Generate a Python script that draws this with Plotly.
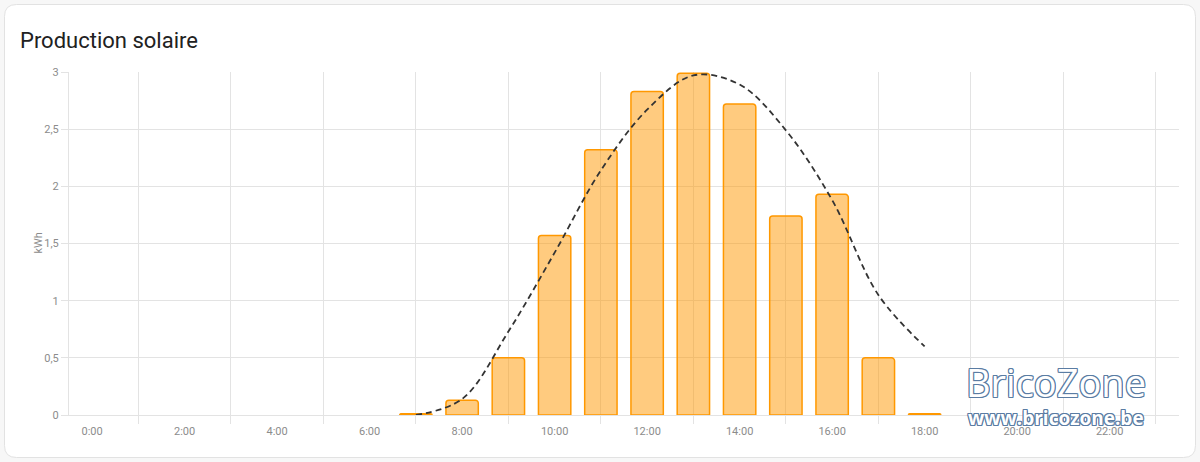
import plotly.graph_objects as go

# ---- data ----
bar_hours = [7, 8, 9, 10, 11, 12, 13, 14, 15, 16, 17, 18]
bar_kwh = [0.01, 0.13, 0.50, 1.57, 2.32, 2.83, 2.99, 2.72, 1.74, 1.93, 0.50, 0.01]
forecast_hours = [7, 8, 9, 10, 11, 12, 13, 14, 15, 16, 17, 18]
forecast_kwh = [0.0, 0.14, 0.73, 1.42, 2.14, 2.67, 2.97, 2.89, 2.49, 1.88, 1.05, 0.60]
x_tick_vals = [0, 2, 4, 6, 8, 10, 12, 14, 16, 18, 20, 22]
x_tick_text = ["0:00", "2:00", "4:00", "6:00", "8:00", "10:00", "12:00",
               "14:00", "16:00", "18:00", "20:00", "22:00"]
x_grid_vals = [1, 3, 5, 7, 9, 11, 13, 15, 17, 19, 21, 23]
y_tick_vals = [0, 0.5, 1, 1.5, 2, 2.5, 3]
y_tick_text = ["0", "0,5", "1", "1,5", "2", "2,5", "3"]

# ---- layout geometry (pixels) ----
W, H = 1200, 462
L, R, T, B = 69, 1179, 72, 415
GRID = "#e3e3e3"
TICKFONT = dict(family="Roboto", size=11, color="#8c8c8c")


def px2paper(px, py):
    return (px - L) / (R - L), (B - py) / (B - T)


def rounded_rect_path(x0, y0, x1, y1, r):
    def P(x, y):
        a, b = px2paper(x, y)
        return f"{a:.5f},{b:.5f}"
    return (f"M {P(x0 + r, y0)} L {P(x1 - r, y0)} Q {P(x1, y0)} {P(x1, y0 + r)} "
            f"L {P(x1, y1 - r)} Q {P(x1, y1)} {P(x1 - r, y1)} "
            f"L {P(x0 + r, y1)} Q {P(x0, y1)} {P(x0, y1 - r)} "
            f"L {P(x0, y0 + r)} Q {P(x0, y0)} {P(x0 + r, y0)} Z")


fig = go.Figure()
fig.add_trace(go.Bar(
    x=bar_hours, y=bar_kwh, width=0.7,
    marker=dict(color="rgba(255,152,0,0.5)",
                line=dict(color="#ff9800", width=1.5),
                cornerradius=3),
    hoverinfo="skip", showlegend=False,
))
fig.add_trace(go.Scatter(
    x=forecast_hours, y=forecast_kwh, mode="lines",
    line=dict(color="#333333", width=1.8, dash="6px,4px",
              shape="spline", smoothing=1.0),
    hoverinfo="skip", showlegend=False,
))

outline = "#5a7ca3"
shadow = (f"1px 0 0 {outline}, -1px 0 0 {outline}, 0 1px 0 {outline}, "
          f"0 -1px 0 {outline}, 1px 1px 0 {outline}, -1px -1px 0 {outline}, "
          f"1px -1px 0 {outline}, -1px 1px 0 {outline}")

wx, wy1 = px2paper(1056, 382)
_, wy2 = px2paper(1056, 418)
kx, ky = px2paper(30, 243)

fig.update_layout(
    width=W, height=H,
    margin=dict(l=L, r=W - R, t=T, b=H - B, pad=0),
    paper_bgcolor="#f7f7f7",
    plot_bgcolor="rgba(0,0,0,0)",
    separators=", ",
    title=dict(text="Production solaire", x=20 / W, xanchor="left",
               y=1 - 40 / H, yanchor="middle",
               font=dict(family="Roboto", size=22, color="#212121")),
    xaxis=dict(range=[-0.5, 23.5], tickmode="array", tickvals=x_tick_vals,
               ticktext=x_tick_text, showgrid=False, zeroline=False,
               ticks="outside", ticklen=6, tickcolor="rgba(0,0,0,0)",
               tickfont=TICKFONT, showline=True, linecolor=GRID, linewidth=1,
               minor=dict(tickmode="array", tickvals=x_grid_vals, ticks="outside",
                          ticklen=8, tickcolor=GRID, showgrid=True,
                          gridcolor=GRID, gridwidth=1),
               fixedrange=True),
    yaxis=dict(range=[0, 3], tickmode="array", tickvals=y_tick_vals,
               ticktext=y_tick_text, showgrid=True, gridcolor=GRID,
               zeroline=False, ticks="outside", ticklen=7, tickcolor=GRID,
               tickfont=TICKFONT, showline=True, linecolor=GRID, linewidth=1,
               fixedrange=True),
    bargap=0.3,
    shapes=[dict(type="path", xref="paper", yref="paper",
                 path=rounded_rect_path(4.5, 4.5, 1195.5, 457.5, 12),
                 fillcolor="white", line=dict(color="#e2e2e2", width=1),
                 layer="below")],
    annotations=[
        dict(text="kWh", xref="paper", yref="paper", x=kx, y=ky,
             textangle=-90, showarrow=False,
             font=dict(family="Roboto", size=11, color="#8c8c8c")),
        dict(text="BricoZone", xref="paper", yref="paper", x=wx, y=wy1,
             xanchor="center", yanchor="middle", showarrow=False,
             font=dict(family="Open Sans", size=38, color="white", shadow=shadow)),
        dict(text="<b>www.bricozone.be</b>", xref="paper", yref="paper", x=wx, y=wy2,
             xanchor="center", yanchor="middle", showarrow=False,
             font=dict(family="Open Sans", size=19, color="white", shadow=shadow)),
    ],
)

fig.write_html("out.html")
